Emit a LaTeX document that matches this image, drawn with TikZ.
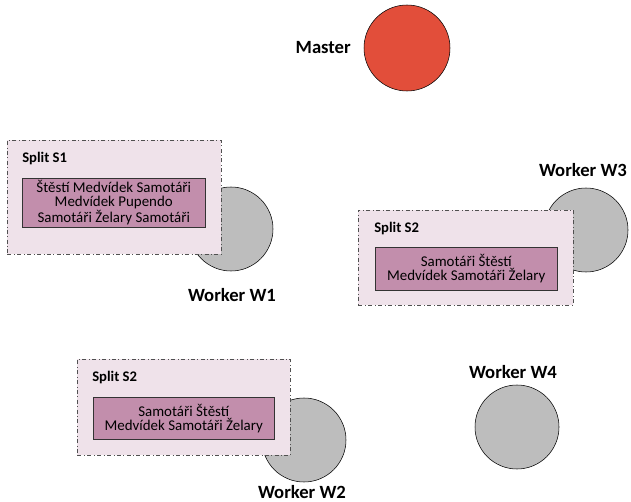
\documentclass[tikz,border=0pt]{standalone}
\usepackage{fontspec}
\setmainfont{Carlito}
\usetikzlibrary{positioning}
\definecolor{masterred}{HTML}{E24E3A}
\definecolor{workergray}{HTML}{BDBDBD}
\definecolor{splitback}{HTML}{EFE2EA}
\definecolor{chunkfill}{HTML}{C28EAC}
\definecolor{splitedge}{HTML}{505050}

\begin{document}
\begin{tikzpicture}[x=0.75pt, y=-0.75pt,
		master/.style={circle, draw=black, fill=masterred, minimum size=64.5pt, inner sep=0pt},
		worker/.style={circle, draw=black, fill=workergray, minimum size=63pt, inner sep=0pt},
		wlabel/.style={font=\fontsize{14}{16}\selectfont\bfseries, inner sep=0pt},
		split/.style={draw=splitedge, dash dot, fill=splitback, anchor=north west, inner sep=0pt},
		slabel/.style={font=\fontsize{11}{13}\selectfont\bfseries, anchor=west, inner sep=0pt},
		chunk/.style={draw=black!80, fill=chunkfill, anchor=north west, align=center, inner sep=0pt,
			font=\fontsize{11.2}{10.6}\selectfont}
	]
	\useasboundingbox (0,0) rectangle (631,502);
	
	% master
	\node[master] (m) at (407,48) {};
	\node[wlabel, anchor=east] (m-l) at (351,48) {Master};
	
	% workers
	\node[worker] (w1) at (231,229) {};
	\node[worker] (w3) at (586,230) {};
	\node[worker] (w2) at (304,440) {};
	\node[worker] (w4) at (517,427) {};
	
	\node[wlabel] (w1-l) at (232,295) {Worker W1};
	\node[wlabel] (w3-l) at (583,170) {Worker W3};
	\node[wlabel] (w2-l) at (302,492) {Worker W2};
	\node[wlabel] (w4-l) at (513,372) {Worker W4};
	
	% split S1 on W1
	\node[split, minimum width=160.5pt, minimum height=85.5pt] (s1) at (7,140) {};
	\node[slabel] (s1-l) at (22,159) {Split S1};
	\node[chunk, minimum width=137.25pt, minimum height=36.75pt] (s1-c) at (22,178)
		{Štěstí Medvídek Samotáři\\Medvídek Pupendo\\Samotáři Želary Samotáři};
	
	% split S2 on W3
	\node[split, minimum width=161.25pt, minimum height=71.25pt] (s2a) at (358,210) {};
	\node[slabel] (s2a-l) at (374,229) {Split S2};
	\node[chunk, minimum width=136.5pt, minimum height=32.25pt] (s2a-c) at (375,247)
		{Samotáři Štěstí\\Medvídek Samotáři Želary};
	
	% split S2 on W2
	\node[split, minimum width=159.75pt, minimum height=72pt] (s2b) at (77,359) {};
	\node[slabel] (s2b-l) at (92,378) {Split S2};
	\node[chunk, minimum width=135.75pt, minimum height=31.5pt] (s2b-c) at (93,397)
		{Samotáři Štěstí\\Medvídek Samotáři Želary};
\end{tikzpicture}
\end{document}
